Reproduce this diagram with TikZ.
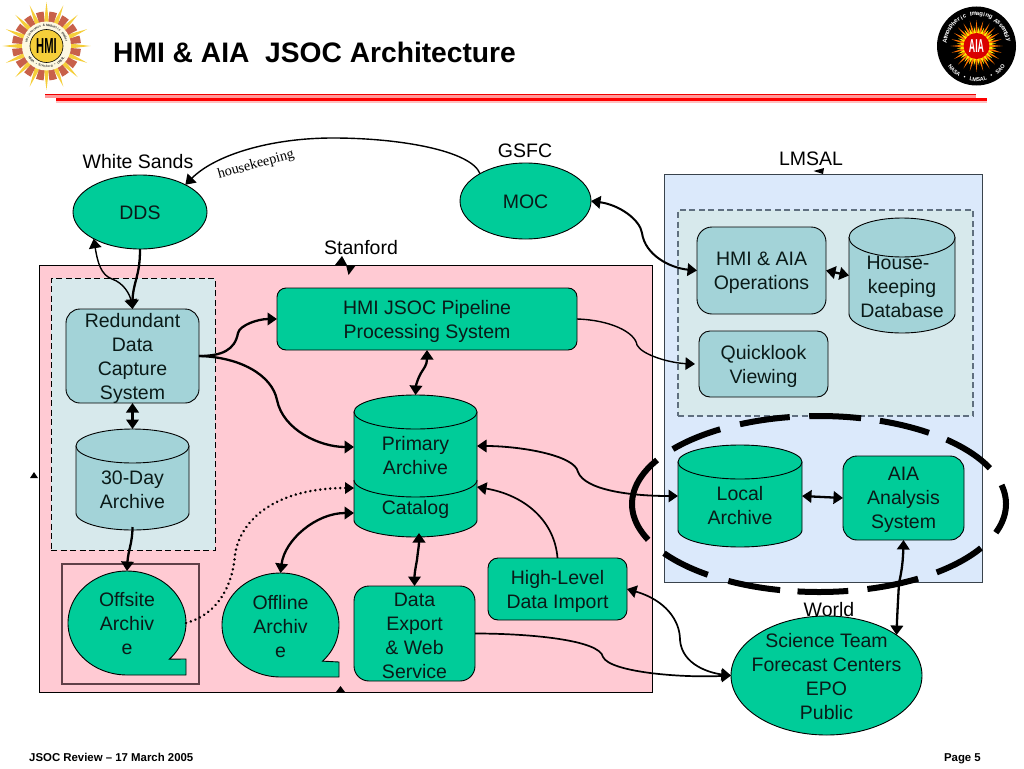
\documentclass[tikz,border=0pt]{standalone}
\usepackage{fontspec}
\setmainfont{Liberation Sans}
\newfontfamily\serifface{Liberation Serif}
\usetikzlibrary{arrows.meta,calc,shapes.geometric}
\definecolor{jgreen}{HTML}{00CC99}
\definecolor{jteal}{HTML}{A3D3D8}
\definecolor{jpink}{HTML}{FFCAD3}
\definecolor{jblue}{HTML}{DBE9FB}
\definecolor{jpale}{HTML}{D7E9EC}
\definecolor{jgrey}{HTML}{5F6F7F}
\definecolor{jmaroon}{HTML}{5F4048}
\definecolor{jtext}{HTML}{0A1A18}
\definecolor{jrust}{HTML}{C8614A}
\definecolor{jsun}{HTML}{F5CE3A}
\tikzset{
  base/.style={draw=black,line width=0.9pt,inner sep=0pt,outer sep=0pt},
  lbl/.style={inner sep=0pt,outer sep=0pt,align=center,text=jtext,font=\fontsize{19.5}{24}\selectfont},
  place/.style={inner sep=0pt,outer sep=0pt,align=center,text=black,font=\fontsize{19.5}{24}\selectfont},
  ghost/.style={inner sep=0pt,outer sep=0pt},
  conn/.style={line width=2.3pt,{Triangle[length=9.5pt,width=12.5pt]}-{Triangle[length=9.5pt,width=12.5pt]}},
  connr/.style={line width=2.3pt,-{Triangle[length=9.5pt,width=12.5pt]}},
  thinr/.style={line width=1.4pt,-{Triangle[length=9.5pt,width=12.5pt]}},
  thinb/.style={line width=1.4pt,{Triangle[length=9.5pt,width=12.5pt]}-{Triangle[length=9.5pt,width=12.5pt]}},
  dotl/.style={line width=2.8pt,dash pattern=on 0.01pt off 5pt,line cap=round},
  stub/.style={fill=black},
}
% \rbox{name}{x1}{y1}{x2}{y2}{radius}{fill}{text}
\newcommand{\rbox}[8]{\node[base,rounded corners=#6pt,fill=#7,minimum width={(#4-#2)*1pt},minimum height={(#5-#3)*1pt}] (#1) at ({(#2+#4)/2},{(#3+#5)/2}) {};
  \node[lbl] (#1text) at ({(#2+#4)/2},{(#3+#5)/2+2.2}) {#8};}
% \cylbox{name}{x1}{x2}{ytop}{ybot}{ry}{fill}
\newcommand{\cylbox}[7]{%
  \draw[line width=0.9pt,fill=#7] (#2,{#4+#6}) -- plot[variable=\t,domain=180:0,samples=40] ({(#2+#3)/2+(#3-#2)/2*cos(\t)},{#5-#6+#6*sin(\t)}) -- (#3,{#4+#6}) -- cycle;
  \draw[line width=0.9pt,fill=#7] ({(#2+#3)/2},{#4+#6}) ellipse [x radius={(#3-#2)/2},y radius=#6];
  \node[ghost,minimum width={(#3-#2)*1pt},minimum height={(#5-#4)*1pt}] (#1) at ({(#2+#3)/2},{(#4+#5)/2}) {};}
% \callout{name}{cx}{cy}{rx}{ry}{notch y}
\newcommand{\callout}[6]{%
  \draw[line width=0.9pt,fill=jgreen] plot[variable=\t,domain=90:404,samples=90] ({#2+#4*cos(\t)},{#3+#5*sin(\t)}) -- ({#2+#4},#6) -- ({#2+#4},{#3+#5}) -- cycle;
  \node[ghost,minimum width={2*#4*1pt},minimum height={2*#5*1pt}] (#1) at (#2,#3) {};}
% \ringtext{prefix}{radius}{start}{step}{size}{colour}{chars}
\newcommand{\ringtext}[7]{%
  \foreach \c [count=\i] in {#7} {
    \pgfmathsetmacro{\ang}{#3+(\i-1)*#4}
    \pgfmathsetmacro{\rot}{\ang+(#4<0?-90:90)}
    \node[inner sep=0pt,text=#6,rotate=\rot,font=\fontsize{#5}{#5}\selectfont\bfseries] (#1\i) at (\ang:#2) {\c};
  }}
\begin{document}
\begin{tikzpicture}[x=1pt,y=-1pt]
\useasboundingbox (0,0) rectangle (1024,768);
\fill[white] (0,0) rectangle (1024,768);

% title band
\node[anchor=west,inner sep=0pt,text=black,font=\fontsize{28.2}{32}\selectfont\bfseries] (title) at (113,52) {HMI \& AIA\ \ JSOC Architecture};
\fill[red!40] (45,93.5) rectangle (976,98);
\fill[red!95!black] (45,93.5) rectangle (976,95.4);
\fill[red!25] (56,98) rectangle (987,102.5);
\fill[red] (56,98.4) rectangle (987,100.8);

% HMI logo
\begin{scope}[shift={(46.5,46)},x=1pt,y=1pt]
  \foreach \a in {0,22.5,...,337.5} {
    \fill[jsun] (\a:44) -- (\a+7:22) -- (\a-7:22) -- cycle;
  }
  \foreach \a in {11.25,33.75,...,348.75} {
    \fill[jrust] (\a-6.5:34.5) arc (\a-6.5:\a+6.5:34.5) -- (\a+6.5:22) arc (\a+6.5:\a-6.5:22) -- cycle;
  }
  \fill[white!85!jsun] (0,0) circle (24.5);
  \ringtext{hmia}{20.5}{165}{-5.2}{3.2}{black!80}{H,e,l,i,o,s,e,i,s,m,i,c,,\&,,M,a,g,n,e,t,i,c,,I,m,a,g,e,r}
  \ringtext{hmib}{20.5}{215}{5}{3.2}{black!80}{N,A,S,A,,•,,S,t,a,n,f,o,r,d,,•,,L,M,S,A,L}
  \draw[fill=jsun,line width=0.6pt] (0,0) circle (16.5);
  \node[inner sep=0pt,font=\fontsize{14}{14}\selectfont\bfseries,xscale=0.8,yscale=1.55,text=black] (hmilogo) at (0,0) {HMI};
\end{scope}

% AIA logo
\begin{scope}[shift={(976.5,46)},x=1pt,y=1pt]
  \fill[black] (0,0) circle (39.5);
  \foreach \a in {0,15,...,345} {
    \fill[orange!90!red] (\a:26) -- (\a+8:11) -- (\a-8:11) -- cycle;
  }
  \foreach \a in {7.5,22.5,...,352.5} {
    \fill[yellow!90!orange] (\a:20) -- (\a+8:11) -- (\a-8:11) -- cycle;
  }
  \fill[red!85!black] (0,0) circle (13);
  \node[inner sep=0pt,font=\fontsize{11}{11}\selectfont\bfseries,xscale=0.8,yscale=1.7,text=white] (aialogo) at (0,0) {AIA};
  \ringtext{aiaa}{32}{172}{-6}{6}{white}{A,t,m,o,s,p,h,e,r,i,c,,I,m,a,g,i,n,g,,A,s,s,e,m,b,l,y}
  \ringtext{aiab}{33.5}{219}{6}{5.5}{white}{N,A,S,A,,•,,L,M,S,A,L,,•,,S,A,O}
\end{scope}

% site boxes
\node[ghost,draw=black,line width=0.9pt,fill=jpink,minimum width=613pt,minimum height=427pt] (stanfordbox) at (345.5,478.5) {};
\node[ghost,draw=jgrey!60!black,line width=0.9pt,fill=jblue,minimum width=318pt,minimum height=408pt] (lmsalbox) at (823,378) {};
\node[ghost,draw=black,line width=0.9pt,dash pattern=on 6pt off 3.5pt,fill=jpale,minimum width=164pt,minimum height=272pt] (capturebox) at (133,414) {};
\node[ghost,draw=jgrey,line width=1.2pt,dash pattern=on 6pt off 3.5pt,fill=jpale,minimum width=295pt,minimum height=206pt] (opsbox) at (825.5,313) {};
\node[ghost,draw=jmaroon,line width=1.1pt,minimum width=137pt,minimum height=120pt] (offsitebox) at (130.5,624) {};

% site labels
\node[place] (whitesands) at (138,161.5) {White Sands};
\node[place] (gsfc) at (525,151) {GSFC};
\node[place] (lmsal) at (811,158.5) {LMSAL};
\node[place] (stanford) at (361,248) {Stanford};
\node[place] (world) at (829,609.5) {World};
\node[inner sep=0pt,rotate=15.4,text=black,font=\serifface\fontsize{14.3}{16}\selectfont] (hk) at (256,165) {housekeeping};

% stray arrow stubs
\fill[stub] (342,256) -- (335,265) -- (347,265) -- cycle;
\fill[stub] (346,265) -- (356,265) -- (348.5,275) -- cycle;
\fill[stub] (813.5,171) -- (824,168) -- (823,174) -- cycle;
\fill[stub] (34,472) -- (30,478) -- (38,478) -- cycle;
\fill[stub] (340.5,686) -- (336,692) -- (345,692) -- cycle;

% ellipses
\node[base,ellipse,fill=jgreen,minimum width=134pt,minimum height=74pt] (dds) at (140,212) {};
\node[lbl] (ddstext) at (140,213) {DDS};
\node[base,ellipse,fill=jgreen,minimum width=131pt,minimum height=76pt] (moc) at (525.5,201) {};
\node[lbl] (moctext) at (525.5,202) {MOC};
\node[base,ellipse,fill=jgreen,minimum width=191pt,minimum height=119pt] (science) at (826.5,675.5) {};
\node[lbl] (sciencetext) at (826.5,677) {Science Team\\Forecast Centers\\EPO\\Public};

% boxes
\rbox{rdcs}{66}{309}{199}{403}{14}{jteal}{Redundant\\Data\\Capture\\System}
\rbox{pipeline}{277}{288}{577}{350}{9}{jgreen}{HMI JSOC Pipeline\\Processing System}
\rbox{export}{354}{586}{475}{681}{15}{jgreen}{Data\\Export\\\& Web\\Service}
\rbox{import}{488}{558}{627}{620}{10}{jgreen}{High-Level\\Data Import}
\rbox{ops}{697}{227}{826}{314}{15}{jteal}{HMI \& AIA\\Operations}
\rbox{quick}{699}{331}{828}{397}{11}{jteal}{Quicklook\\Viewing}
\rbox{aia}{843}{456}{964}{540}{14}{jgreen}{AIA\\Analysis\\System}

% cylinders
\cylbox{thirty}{76}{189}{429}{530}{17}{jteal}
\node[lbl] (thirtytext) at (132.5,490) {30-Day\\Archive};
\cylbox{house}{849}{955}{218}{333}{19.5}{jteal}
\node[lbl] (housetext) at (902,287) {House-\hspace*{8pt}\\keeping\\Database};
\cylbox{local}{678}{802}{445}{547}{17}{jgreen}
\node[lbl] (localtext) at (740,506) {Local\\Archive};
\cylbox{prim}{354}{477}{395}{537}{17}{jgreen}
\draw[line width=0.9pt] plot[variable=\t,domain=180:0,samples=40] ({415.5+61.5*cos(\t)},{480+17*sin(\t)});
\node[lbl] (primtext) at (415.5,456) {Primary\\Archive};
\node[lbl] (cattext) at (415.5,509) {Catalog};

% callouts
\callout{offsite}{127}{623}{59}{52}{659}
\node[lbl] (offsitetext) at (127,623.5) {Offsite\\Archiv\\e};
\callout{offline}{280.5}{625}{58.5}{52}{662}
\node[lbl] (offlinetext) at (280.5,627) {Offline\\Archiv\\e};

% connectors
\draw[thinb] (dds.210) .. controls +(4,24) and +(-11,-4) .. (112,279) .. controls (124,283) and (130,295) .. (rdcs.north);
\draw[connr] (dds.south) .. controls +(0,16) and +(2,-8) .. (136,280) .. controls (134,287) and (132.5,295) .. (rdcs.north);
\draw[conn] (rdcs.south) -- (thirty.north);
\draw[connr] ($(thirty.south)+(0,-3)$) .. controls +(0,16) and +(1,-20) .. (offsite.north);
\draw[connr] (rdcs.east) .. controls +(23,0) and +(-3,17) .. (238,333) .. controls (240,325) and (258,319) .. (pipeline.west);
\draw[connr] (rdcs.east) .. controls +(41,1) and +(-5,-25) .. (277,400) .. controls (283,430) and (320,447) .. ($(prim.west)+(0,-19)$);
\draw[conn] (pipeline.south) .. controls +(0,15) and +(3,-5) .. (421,373) .. controls (418,378) and (416,385) .. (prim.north);
\draw[dotl] (offsite.east) .. controls +(29,-8) and (232,590) .. (235,555) .. controls (240,520) and (275,488) .. ($(prim.west)+(-8,22)$);
\fill[stub] ($(prim.west)+(0,22)$) -- ($(prim.west)+(-9,16)$) -- ($(prim.west)+(-9,28)$) -- cycle;
\draw[conn] (offline.north) .. controls +(4,-33) and +(-38,0) .. ($(prim.west)+(0,47)$);
\draw[conn] ($(prim.south)+(3.5,-4)$) .. controls +(0,13) and +(1,-10) .. (417,560) .. controls (415,570) and (414.5,575) .. (export.north);
\draw[thinr,line width=1.7pt] (import.north) .. controls +(-3,-38) and +(47,8) .. ($(prim.east)+(0,21)$);
\draw[thinb,line width=1.8pt] ($(prim.east)+(0,-20)$) .. controls +(42,0) and +(-3,-17) .. (578,472) .. controls (585,490) and (630,496) .. (local.west);
\draw[thinr,line width=1.7pt] (export.east) .. controls +(55,0) and +(-3,-17) .. (603,657) .. controls (610,672) and (680,678) .. (science.west);
\draw[thinb,line width=1.7pt] (import.east) .. controls +(38,11) and +(0,-20) .. (680,640) .. controls (682,665) and (710,673) .. (science.west);
\draw[conn,line width=2pt] (moc.east) .. controls +(29,4) and +(-2,-13) .. (642,233) .. controls (645,255) and (670,268) .. (ops.west);
\draw[thinr] (pipeline.east) .. controls +(33,1) and +(-2,-13) .. (637,345) .. controls (642,355) and (670,363) .. ($(quick.west)+(-4,0)$);
\draw[conn] (ops.east) -- (house.west);
\draw[conn] (local.east) -- (aia.west);
\draw[conn] (aia.south) .. controls +(-0.5,20) and +(3,-13) .. (899,583) .. controls (898,600) and (897,620) .. (science.30);
\draw[thinr] (moc.149) .. controls +(-9,-23) and +(67,0) .. (333,138) .. controls (270,138) and (215,155) .. (dds.31);

% dashed ring around the analysis site
\foreach \a/\b in {218.6/238.1,245/261,267/283,289/306,313/336,347.5/379,390/411,418/435,441/456.6,462/479,486.5/506,516/570} {
  \draw[line width=6pt] plot[variable=\t,domain=\a:\b,samples=24] ({819+187*cos(\t)},{504+88*sin(\t)});
}

% footer
\node[anchor=base west,inner sep=0pt,text=black,font=\fontsize{11.4}{13}\selectfont\bfseries] (footleft) at (29,761) {JSOC Review – 17 March 2005};
\node[anchor=base east,inner sep=0pt,text=black,font=\fontsize{11.4}{13}\selectfont\bfseries] (footright) at (981,761) {Page 5};
\end{tikzpicture}
\end{document}
